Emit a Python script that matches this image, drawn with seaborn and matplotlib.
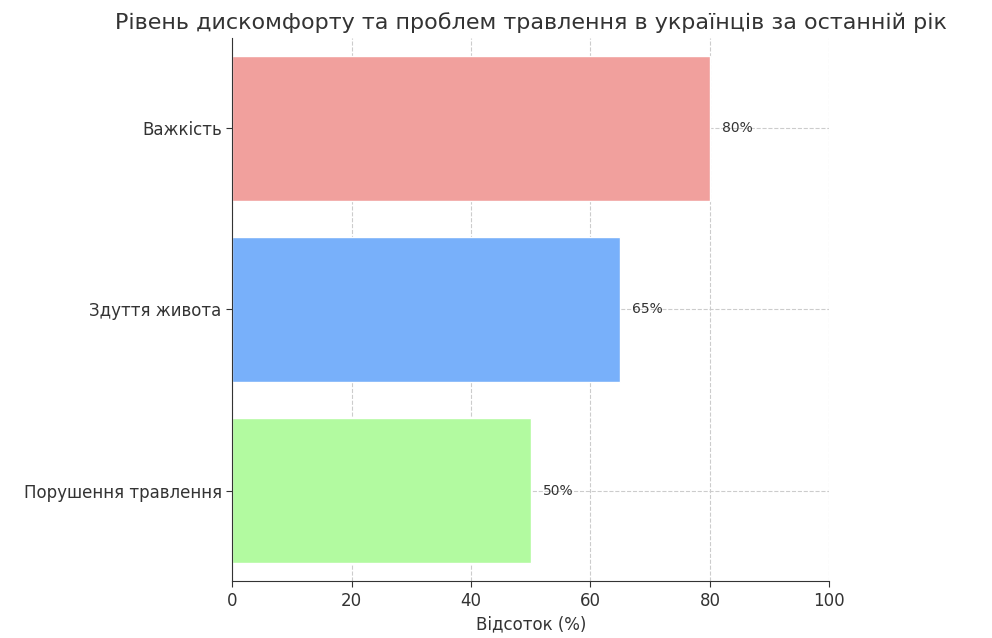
import matplotlib
matplotlib.use("Agg")
import matplotlib.pyplot as plt
import seaborn as sns
import pandas as pd

categories = ["Важкість", "Здуття живота", "Порушення травлення"]
values = [80, 65, 50]
colors = ["#F1A09D", "#78B0FA", "#B2FAA0"]

df = pd.DataFrame({"category": categories, "value": values})

sns.set_style("white")
plt.rcParams['font.family'] = ['DejaVu Sans']

fig = plt.figure(figsize=(9.92, 6.38), dpi=100)
ax = fig.add_axes([0.234, 0.089, 0.602, 0.852])
sns.barplot(data=df, y="category", x="value", hue="category", palette=colors,
            orient="h", width=0.8, legend=False, ax=ax, saturation=1)

for i, v in enumerate(values):
    ax.text(v + 2, i, f"{v}%", va="center", ha="left", fontsize=10, color="#333333")

ax.set_xlim(0, 100)
ax.set_xticks([0, 20, 40, 60, 80, 100])
ax.grid(True, linestyle="--", color="#cccccc", linewidth=0.8)
ax.set_axisbelow(True)
for s in ["top", "right"]:
    ax.spines[s].set_visible(False)
for s in ["left", "bottom"]:
    ax.spines[s].set_color("#333333")
ax.tick_params(axis="both", labelsize=12, colors="#333333", length=4, left=True, bottom=True)
ax.set_xlabel("Відсоток (%)", fontsize=12, color="#333333")
ax.set_ylabel("")
ax.set_title("Рівень дискомфорту та проблем травлення в українців за останній рік",
             fontsize=16, color="#333333")

fig.savefig("out.png", dpi=100)
